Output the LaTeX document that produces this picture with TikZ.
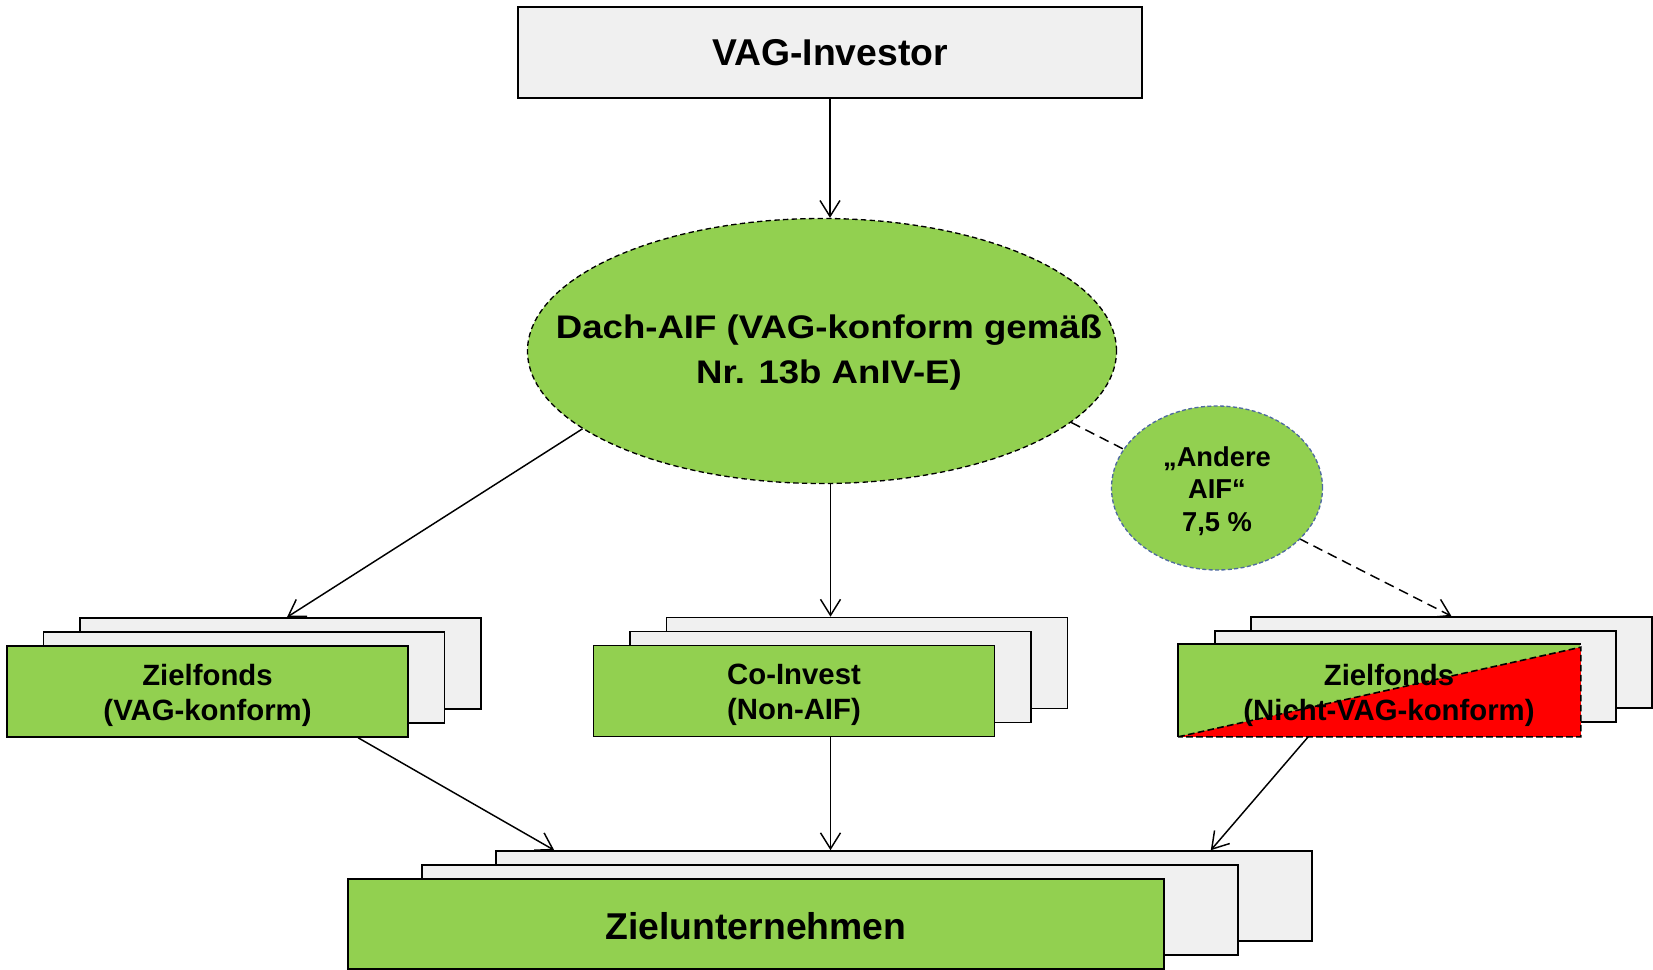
\documentclass[tikz,border=0pt]{standalone}
\usepackage{fontspec}
\setmainfont{Liberation Sans}
\newfontfamily\widefont[FakeStretch=1.12]{Liberation Sans}
\usetikzlibrary{arrows.meta,shapes.geometric,calc}
\definecolor{leafgreen}{HTML}{92D050}
\definecolor{cardgray}{HTML}{F0F0F0}
\definecolor{slateblue}{RGB}{79,106,160}

\begin{document}
\begin{tikzpicture}[x=0.75pt, y=-0.75pt,
  card/.style={draw=black, line width=1.2pt, fill=cardgray, inner sep=0pt,
    minimum width=300.75pt, minimum height=68.25pt},
  frontcard/.style={card, fill=leafgreen},
  cardtext/.style={align=center, font=\bfseries\fontsize{22}{26.25}\selectfont},
  widecard/.style={card, minimum width=612pt, minimum height=67.5pt},
  bigtext/.style={font=\bfseries\fontsize{28}{33}\selectfont},
  arr/.style={line width=1.1pt, -{Straight Barb[length=12pt,width=15pt]}},
  dasharr/.style={arr, dash pattern=on 7.5pt off 4.5pt},
]
\useasboundingbox (0,0) rectangle (1653,970);

% investor at the top
\node[card, minimum width=468pt, bigtext] (inv) at (830,52.5) {VAG-Investor};

% fund of funds
\node[ellipse, draw=black, line width=1pt, dash pattern=on 4pt off 2.5pt,
      fill=leafgreen, minimum width=441.75pt, minimum height=198.75pt,
      inner sep=0pt] (dach) at (822,351) {};
\node[font=\widefont\bfseries\fontsize{24.5}{33.75}\selectfont, align=center]
      (dachtext) at (829,353) {Dach-AIF (VAG-konform gemäß\\Nr. 13b AnIV-E)};

% left stack
\node[card] (c1back) at (280.5,663.5) {};
\node[card] (c1mid) at (244,677.5) {};
\node[frontcard] (c1front) at (207.5,691.5) {};
\node[cardtext] (c1text) at (207.5,695.5) {Zielfonds\\(VAG-konform)};

% middle stack
\node[card] (c2back) at (867,663) {};
\node[card] (c2mid) at (830.5,677) {};
\node[frontcard] (c2front) at (794,691) {};
\node[cardtext] (c2text) at (794,695) {Co-Invest\\(Non-AIF)};

% right stack, front card split green / red
\node[card] (c3back) at (1451.5,662.5) {};
\node[card] (c3mid) at (1415.5,676.5) {};
\node[card, fill=leafgreen, draw=none] (c3front) at (1379.5,690.5) {};
\draw[line width=1.2pt] (c3front.south west) -- (c3front.north west) -- (c3front.north east);
\draw[line width=1.2pt, fill=red, dash pattern=on 5pt off 2.5pt]
  (c3front.south west) -- ($(c3front.north east)+(0,3)$) -- (c3front.south east) -- cycle;
\node[cardtext] (c3text) at (1389,695) {Zielfonds\\(Nicht-VAG-konform)};

% target companies
\node[widecard] (zback) at (904,896) {};
\node[widecard] (zmid) at (830,910) {};
\node[widecard, fill=leafgreen] (zfront) at (756,924) {};
\node[bigtext] (ztext) at (756,926) {Zielunternehmen};

% connectors
\draw[arr] (inv.south) -- (inv.south |- dach.north);
\draw[arr] (dach.198.7) -- ($(c1back.north)+(6.5,0)$);
\draw[arr] (c2mid.north |- dach.south) -- (c2mid.north |- c2back.north);
\draw[dasharr] (dach.-16.4) -- (c3back.north);
\draw[arr] ($(c1front.south west)+(352,0)$) -- ($(zback.north west)+(59,0)$);
\draw[arr] (c2mid.south |- c2front.south) -- (c2mid.south |- zback.north);
\draw[arr] ($(c3front.south west)+(130,0)$) -- ($(zback.north east)+(-102,0)$);

% other AIF quota, drawn over the dashed connector
\node[ellipse, draw=slateblue, line width=1pt, dash pattern=on 3pt off 1.8pt,
      fill=leafgreen, minimum width=158.25pt, minimum height=123pt, inner sep=0pt]
      (andere) at (1217,488) {};
\node[align=center, font=\bfseries\fontsize{20.5}{24.2}\selectfont]
      (anderetext) at (1217,491) {„Andere\\AIF“\\7,5 \%};
\end{tikzpicture}
\end{document}
